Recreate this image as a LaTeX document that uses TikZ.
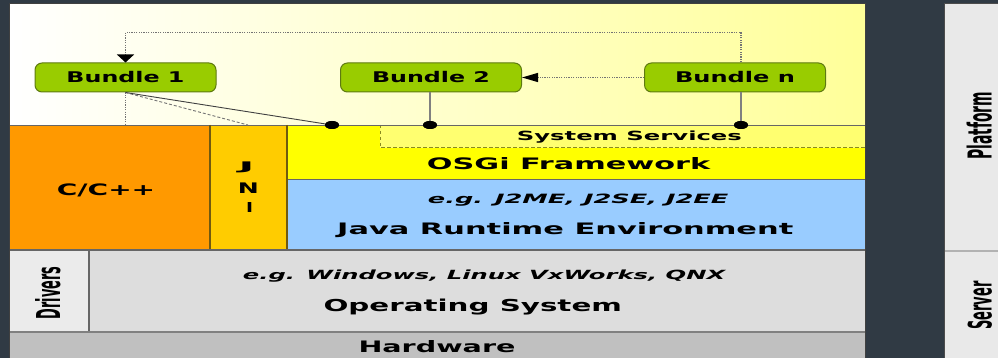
\documentclass[tikz,border=0pt]{standalone}
\usepackage{fontspec}
\setmainfont{DejaVu Sans}
\usepackage{graphicx}
\usetikzlibrary{arrows.meta,shapes.geometric,calc}
\definecolor{bgdark}{HTML}{303A44}
\definecolor{upyellow}{HTML}{FFFF99}
\definecolor{orangec}{HTML}{FF9900}
\definecolor{jnic}{HTML}{FFCC00}
\definecolor{osgic}{HTML}{FFFF00}
\definecolor{sysc}{HTML}{FFFF70}
\definecolor{jrec}{HTML}{99CCFF}
\definecolor{drvc}{HTML}{EBEBEB}
\definecolor{osc}{HTML}{DDDDDD}
\definecolor{hwc}{HTML}{C0C0C0}
\definecolor{sidec}{HTML}{E9E9E9}
\definecolor{bgreen}{HTML}{99CC00}
\definecolor{bedge}{HTML}{5E7A10}
\definecolor{sepc}{HTML}{666666}
\definecolor{jedge}{HTML}{705A10}
\definecolor{dashc}{HTML}{8A8A20}
\newcommand\fitbox[3]{\resizebox{#1pt}{#2pt}{#3}}
\newcommand\fitboxt[3]{\resizebox*{#1pt}{#2pt}{#3}}
\tikzset{
  bundle/.style={draw=bedge, fill=bgreen, rounded corners=7pt, line width=1pt,
    minimum width=181pt, minimum height=29pt, inner sep=0pt, font=\bfseries},
  lbl/.style={inner sep=0pt, anchor=base west, font=\bfseries},
  ilbl/.style={inner sep=0pt, anchor=base west, font=\bfseries\itshape},
  clbl/.style={inner sep=0pt, anchor=base, font=\bfseries},
  vlbl/.style={lbl, rotate=90},
  pin/.style={ellipse, fill=black, minimum width=14pt, minimum height=8pt, inner sep=0pt},
  loopline/.style={draw=black!55, line width=1.2pt, dash pattern=on 1.2pt off 1.2pt},
  stem/.style={draw=black!50, line width=2pt},
  thinln/.style={draw=black!75, line width=0.9pt},
  dashln/.style={draw=black!55, line width=0.9pt, dash pattern=on 3pt off 2pt},
  sep/.style={draw=sepc, line width=1.4pt},
}
\begin{document}
\begin{tikzpicture}[x=1pt,y=-1pt]
\useasboundingbox (0,0) rectangle (998,358);
\fill[bgdark] (0,0) rectangle (998,358);
% main panel
\shade[left color=white, right color=upyellow] (9,4) rectangle (865,125);
\fill[orangec] (9,125) rectangle (210,250);
\fill[jnic] (210,125) rectangle (287,250);
\fill[osgic] (287,125) rectangle (865,179.5);
\fill[sysc] (380,125) rectangle (865,148);
\fill[jrec] (287,179.5) rectangle (865,250);
\fill[drvc] (9,250) rectangle (89,332);
\fill[osc] (89,250) rectangle (865,332);
\fill[hwc] (9,332) rectangle (865,358);
\draw[dashc, line width=1pt, dash pattern=on 3.5pt off 2.5pt] (380,125) -- (380,148) -- (865,148);
\draw[draw=black!60, line width=0.8pt] (9,125) -- (865,125);
\draw[sep] (287,179.5) -- (865,179.5);
\draw[draw=jedge, line width=1.4pt] (210,125) -- (210,250);
\draw[draw=jedge, line width=1.4pt] (287,125) -- (287,250);
\draw[sep] (9,250) -- (865,250);
\draw[sep] (89,250) -- (89,332);
\draw[draw=black!50, line width=1.4pt] (9,332) -- (865,332);
\draw[draw=black!75, line width=1pt] (9,360) -- (9,4) -- (865,4) -- (865,360);
% side panel
\fill[sidec] (944,4) rectangle (998,358);
\draw[draw=black!30, line width=1.2pt] (944,251) -- (998,251);
\draw[draw=black!70, line width=1pt] (944,358) -- (944,4) -- (998,4);
% bundles
\node[bundle] (b1) at (125.5,77.5) {\fitbox{118}{11.2}{Bundle 1}};
\node[bundle] (b2) at (431,77.5) {\fitbox{118}{11.2}{Bundle 2}};
\node[bundle] (bn) at (735,77.5) {\fitbox{120}{11.2}{Bundle n}};
% pins
\coordinate (jtop) at (248,125);
\node[pin] (p1) at (332,125) {};
\node[pin] (p2) at (430,125) {};
\node[pin] (p3) at (741,125) {};
% connectors
\draw[dashln] (b1.south) -- (jtop);
\draw[loopline] (b1.south) -- (b1.south |- jtop);
\draw[thinln] (b1.south) -- (p1);
\draw[stem] (b2.south -| p2) -- (p2);
\draw[stem] (bn.south -| p3) -- (p3);
\draw[loopline, -{Triangle[width=17pt,length=8pt,black]}] (bn.north -| p3) -- ++(0,-30) -| (b1.north);
\draw[loopline, -{Triangle[width=9pt,length=16pt,black]}] (bn.west) -- (b2.east);
\node[pin] at (p1) {};
\node[pin] at (p2) {};
\node[pin] at (p3) {};
% labels
\node[lbl] (tss) at (516.7,141) {\fitbox{225}{9.6}{System Services}};
\node[lbl] (tosgi) at (426.7,170) {\fitbox{283.3}{12}{OSGi Framework}};
\node[ilbl] (tjeg) at (427.7,203.5) {\fitbox{300.6}{9.5}{e.g. J2ME, J2SE, J2EE}};
\node[lbl] (tjre) at (337,234.5) {\fitbox{456}{12}{Java Runtime Environment}};
\node[ilbl] (toseg) at (242.7,279.5) {\fitbox{482.3}{9.6}{e.g. Windows, Linux VxWorks, QNX}};
\node[lbl] (tos) at (323.3,311.7) {\fitbox{298.4}{12.5}{Operating System}};
\node[lbl] (thw) at (358.3,352.3) {\fitbox{157}{12}{Hardware}};
\node[lbl] (tcc) at (56.7,196) {\fitbox{98.3}{11.7}{C/C++}};
\node[inner sep=0pt, anchor=south, font=\bfseries] (tj) at (246.5,173) {\fitboxt{15.7}{11}{J}};
\node[clbl] (tn) at (248.3,193.3) {\fitbox{21}{10.6}{N}};
\node[clbl] (ti) at (249.5,212.7) {\fitbox{7}{10}{I}};
\node[vlbl] (tdrv) at (60,319.3) {\fitbox{52.6}{25}{Drivers}};
\node[vlbl] (tpl) at (991.7,160) {\fitbox{68}{25}{Platform}};
\node[vlbl] (tsrv) at (991.7,330) {\fitbox{48.3}{24}{Server}};
\end{tikzpicture}
\end{document}
